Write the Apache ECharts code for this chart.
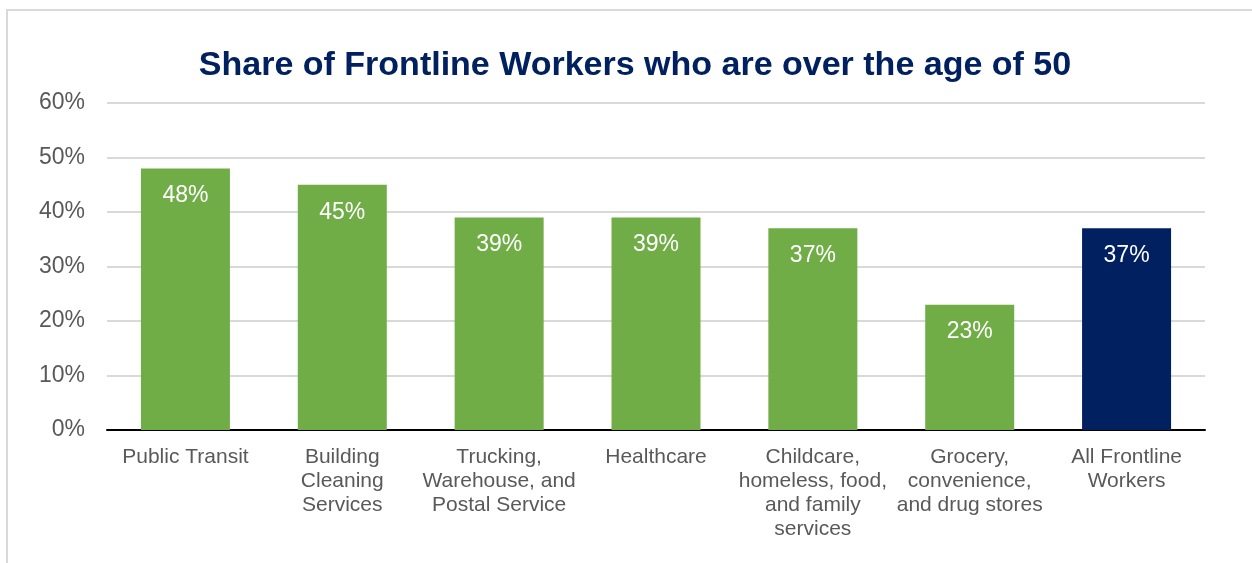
<!DOCTYPE html>
<html>
<head>
<meta charset="utf-8">
<script src="https://cdn.jsdelivr.net/npm/echarts@6/dist/echarts.min.js"></script>
<style>
html,body{margin:0;padding:0;background:#fff;overflow:hidden;}
#frame{position:absolute;left:6px;top:9px;width:1260px;height:580px;border:2px solid #d9d9d9;box-sizing:border-box;}
#chart{position:absolute;left:0;top:0;width:1252px;height:563px;}
</style>
</head>
<body>
<div id="frame"></div>
<div id="chart"></div>
<script>
const categories = [
  "Public Transit",
  "Building\nCleaning\nServices",
  "Trucking,\nWarehouse, and\nPostal Service",
  "Healthcare",
  "Childcare,\nhomeless, food,\nand family\nservices",
  "Grocery,\nconvenience,\nand drug stores",
  "All Frontline\nWorkers"
];
const values = [48, 45, 39, 39, 37, 23, 37];
const barColors = ["#70AD47","#70AD47","#70AD47","#70AD47","#70AD47","#70AD47","#002060"];
const titleText = "Share of Frontline Workers who are over the age of 50";

const chart = echarts.init(document.getElementById('chart'));
chart.setOption({
  animation: false,
  title: {
    text: titleText,
    left: 630,
    textAlign: 'center',
    top: 44,
    textStyle: {fontFamily: 'Liberation Sans, Arial', fontSize: 34, fontWeight: 'bold', color: '#002060'}
  },
  grid: {left: 107, right: 47, top: 103, bottom: 133, containLabel: false},
  xAxis: {
    type: 'category',
    data: categories,
    axisLine: {lineStyle: {color: '#000', width: 2}},
    axisTick: {show: false},
    axisLabel: {
      interval: 0,
      fontFamily: 'Liberation Sans, Arial',
      fontSize: 21,
      color: '#595959',
      lineHeight: 24,
      margin: 15
    }
  },
  yAxis: {
    type: 'value',
    min: 0, max: 60, interval: 10,
    axisLabel: {
      formatter: '{value}%',
      fontFamily: 'Liberation Sans, Arial',
      fontSize: 23,
      color: '#595959',
      margin: 22
    },
    splitLine: {lineStyle: {color: '#d9d9d9', width: 2}},
    axisLine: {show: false},
    axisTick: {show: false}
  },
  series: [{
    type: 'bar',
    data: values.map((v, i) => ({value: v, itemStyle: {color: barColors[i]}})),
    barWidth: 89,
    label: {
      show: true,
      position: 'insideTop',
      distance: 16,
      formatter: '{c}%',
      color: '#fff',
      fontFamily: 'Liberation Sans, Arial',
      fontSize: 23
    }
  }]
});
</script>
</body>
</html>
